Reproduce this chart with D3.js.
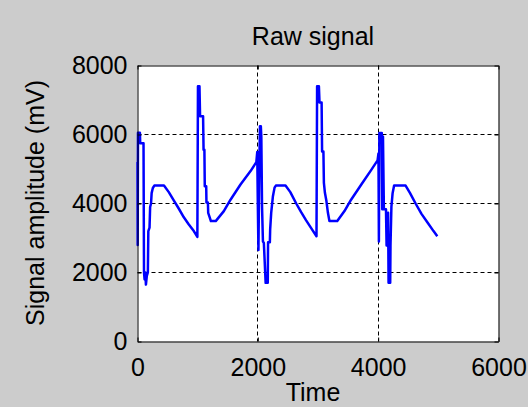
<!DOCTYPE html>
<html>
<head>
<meta charset="utf-8">
<script src="https://cdn.jsdelivr.net/npm/d3@7"></script>
<style>
body { margin: 0; background: #cccccc; }
svg { display: block; }
text { font-family: "Liberation Sans", Arial, sans-serif; fill: #000; }
</style>
</head>
<body>
<svg></svg>
<script>
// raw signal (time, mV)
var sampleTime = [0, 3, 8, 40, 45, 100, 108, 118, 130, 140, 155, 172, 180, 200, 210, 225, 235, 255, 280, 440,
    520, 600, 680, 770, 850, 936, 995, 1005, 1030, 1040, 1090, 1098, 1112, 1118, 1142, 1146, 1170, 1175, 1200, 1220,
    1300, 1435, 1546, 1712, 1879, 1975, 1990, 2000, 2010, 2025, 2035, 2050, 2058, 2070, 2085, 2100, 2130, 2165, 2170, 2200,
    2205, 2222, 2250, 2278, 2300, 2460, 2540, 2638, 2720, 2800, 2900, 2975, 2985, 3015, 3025, 3060, 3068, 3090, 3098, 3115,
    3140, 3165, 3190, 3320, 3440, 3550, 3720, 3880, 3990, 4005, 4012, 4020, 4060, 4068, 4080, 4095, 4130, 4140, 4165, 4173,
    4200, 4205, 4220, 4240, 4265, 4456, 4530, 4622, 4720, 4820, 4920, 4983];
var signalMv = [5200, 2800, 6050, 6050, 5750, 5750, 2000, 1800, 2000, 1650, 1900, 2000, 3200, 3300, 3900, 4000, 4300, 4450, 4520, 4520,
    4330, 4100, 3870, 3600, 3400, 3200, 3030, 7400, 7400, 6530, 6530, 5560, 5560, 4500, 4500, 4030, 4030, 3730, 3600, 3490,
    3490, 3780, 4110, 4550, 4940, 5200, 5490, 3960, 2650, 5100, 6240, 6240, 5940, 3900, 2900, 2860, 1700, 1700, 2880, 2880,
    3250, 3730, 4200, 4460, 4520, 4520, 4330, 4000, 3750, 3520, 3250, 3050, 7400, 7400, 6930, 6930, 5510, 5510, 4600, 4310,
    4070, 3730, 3490, 3490, 3780, 4110, 4550, 4960, 5250, 5450, 2900, 6040, 6040, 3830, 5940, 3830, 3830, 2780, 3730, 1700,
    1700, 2800, 3900, 4300, 4520, 4520, 4300, 4000, 3700, 3450, 3200, 3050];

var xTicks = [0, 2000, 4000, 6000];
var yTicks = [0, 2000, 4000, 6000, 8000];
var xGrid = [2000, 4000];
var yGrid = [2000, 4000, 6000];

var screen = {width:528, height:407}
var margins = {top:65, right:30, bottom:66, left:137}

var width = screen.width - margins.left - margins.right;
var height = screen.height - margins.top - margins.bottom;

var svg = d3.select("svg")
    .attr("width", screen.width)
    .attr("height", screen.height);

var xScale = d3.scaleLinear()
    .domain([0, 6000])
    .range([0, width]);

var yScale = d3.scaleLinear()
    .domain([0, 8000])
    .range([height, 0]);

var graph = svg.append("g")
    .attr("id", "graph")
    .attr("transform", "translate(" + (margins.left + 0.5) + "," + (margins.top + 0.5) + ")");

graph.append("rect")
    .attr("width", width)
    .attr("height", height)
    .attr("fill", "#ffffff");

// dashed grid
graph.selectAll(".gx")
    .data(xGrid)
    .enter()
    .append("line")
    .attr("class", "gx")
    .attr("x1", function(d) { return Math.round(xScale(d)); })
    .attr("x2", function(d) { return Math.round(xScale(d)); })
    .attr("y1", 0)
    .attr("y2", height)
    .attr("stroke", "#000")
    .attr("stroke-dasharray", "4,3");

graph.selectAll(".gy")
    .data(yGrid)
    .enter()
    .append("line")
    .attr("class", "gy")
    .attr("x1", 0)
    .attr("x2", width)
    .attr("y1", function(d) { return Math.round(yScale(d)); })
    .attr("y2", function(d) { return Math.round(yScale(d)); })
    .attr("stroke", "#000")
    .attr("stroke-dasharray", "4,3");

var points = sampleTime.map(function(t, i) { return [t, signalMv[i]]; });

var line = d3.line()
    .x(function(d) { return xScale(d[0]); })
    .y(function(d) { return yScale(d[1]); });

graph.append("path")
    .datum(points)
    .attr("d", line)
    .attr("fill", "none")
    .attr("stroke", "#0000ff")
    .attr("stroke-width", 2.5)
    .attr("stroke-linejoin", "round");

// axes, ticks point inward like matlab
var fmt = d3.format("d");
var xAxis = d3.axisBottom(xScale).tickValues(xTicks).tickFormat(fmt).tickSizeInner(-4).tickSizeOuter(0).tickPadding(17);
var yAxis = d3.axisLeft(yScale).tickValues(yTicks).tickFormat(fmt).tickSizeInner(-4).tickSizeOuter(0).tickPadding(10);
var xTop = d3.axisTop(xScale).tickValues(xTicks).tickSizeInner(-4).tickSizeOuter(0).tickFormat("");
var yRight = d3.axisRight(yScale).tickValues(yTicks).tickSizeInner(-4).tickSizeOuter(0).tickFormat("");

graph.append("g").attr("transform", "translate(0," + height + ")").call(xAxis);
graph.append("g").call(yAxis);
graph.append("g").call(xTop);
graph.append("g").attr("transform", "translate(" + width + ",0)").call(yRight);

graph.selectAll(".domain").attr("stroke", "#000");
graph.selectAll(".tick line").attr("stroke", "#000");
graph.selectAll(".tick text")
    .attr("font-size", 25)
    .attr("font-family", "Liberation Sans, Arial, sans-serif")
    .attr("fill", "#000");

svg.append("text")
    .attr("x", 313)
    .attr("y", 45)
    .attr("text-anchor", "middle")
    .attr("font-size", 25)
    .text("Raw signal");

svg.append("text")
    .attr("x", 313)
    .attr("y", 401)
    .attr("text-anchor", "middle")
    .attr("font-size", 25)
    .text("Time");

svg.append("text")
    .attr("transform", "translate(44," + (margins.top + height / 2) + ") rotate(-90)")
    .attr("text-anchor", "middle")
    .attr("font-size", 25)
    .text("Signal amplitude (mV)");
</script>
</body>
</html>
